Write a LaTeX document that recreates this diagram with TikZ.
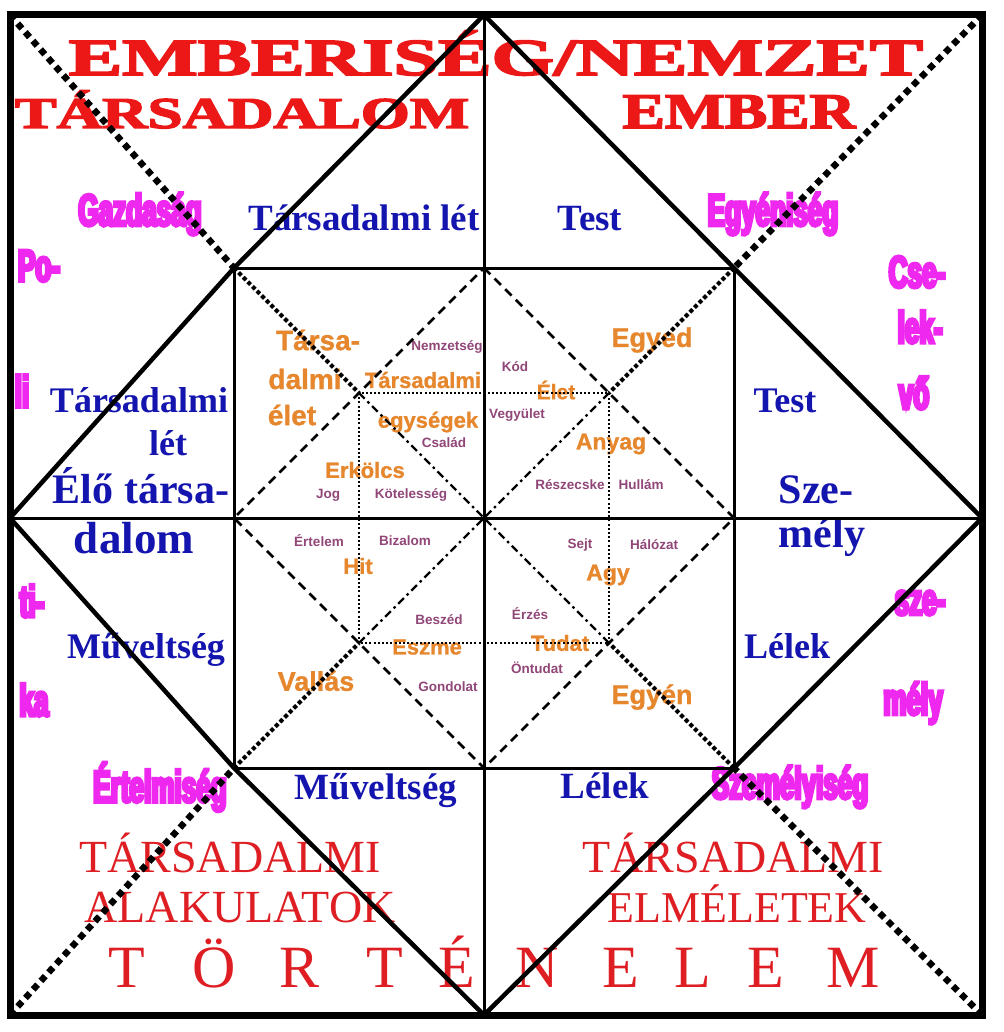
\documentclass[tikz,border=0pt]{standalone}
\usepackage{fontspec}
\usepackage{graphicx}
\setmainfont{Liberation Serif}
\newfontfamily\sansfont{Liberation Sans}
\newfontfamily\orangefont[FakeBold=1]{Liberation Sans Bold}
\newfontfamily\impactfont[FakeStretch=0.58,FakeBold=7]{Liberation Sans Bold}
\newfontfamily\titlefont[FakeBold=3]{Liberation Serif Bold}
\newcommand{\fsz}[1]{\fontsize{#1}{#1}\selectfont}
\definecolor{tred}{RGB}{236,24,24}
\definecolor{bred}{RGB}{222,30,35}
\definecolor{pinkc}{RGB}{238,40,238}
\definecolor{bluec}{RGB}{20,20,175}
\definecolor{orangec}{RGB}{230,135,45}
\definecolor{purplec}{RGB}{145,70,120}
\tikzset{
  lbl/.style={inner sep=0pt, outer sep=0pt},
  titletxt/.style={lbl, text=tred, anchor=base},
  pinktxt/.style={lbl, text=pinkc, font=\impactfont\fsz{45}},
  bluetxt/.style={lbl, text=bluec, anchor=base},
  redtxt/.style={lbl, text=bred, anchor=base},
  histtxt/.style={lbl, text=bred, anchor=base, font=\fsz{60}},
  orangetxt/.style={lbl, text=orangec},
  purpletxt/.style={lbl, text=purplec, font=\sansfont\bfseries\fsz{13.5}},
  frame/.style={line width=7pt},
  bigdiamond/.style={line width=4.5pt, line join=miter},
  cross/.style={line width=3pt},
  innersq/.style={line width=3pt},
  thickdots/.style={line width=6.5pt, dash pattern=on 6.5pt off 5pt},
  smalldots/.style={line width=4pt, dash pattern=on 4pt off 2.5pt},
  dashdot/.style={line width=2.2pt, dash pattern=on 8pt off 4pt on 2.5pt off 4pt},
  dashline/.style={line width=2.8pt, dash pattern=on 9pt off 6pt},
  finedots/.style={line width=2pt, dash pattern=on 2pt off 2.2pt},
}
\begin{document}
\begin{tikzpicture}[x=1pt,y=-1pt]
\fill[white] (0,0) rectangle (1003,1032);
\useasboundingbox (0,0) rectangle (1003,1032);

% coordinates
\coordinate (oTL) at (10,15);
\coordinate (oTR) at (982,15);
\coordinate (oBL) at (10,1015);
\coordinate (oBR) at (982,1015);
\coordinate (mT) at (484,15);
\coordinate (mB) at (484,1015);
\coordinate (mL) at (10,518);
\coordinate (mR) at (982,518);
\coordinate (C) at (484,518);
\coordinate (iTL) at (234,268);
\coordinate (iTR) at (734,268);
\coordinate (iBL) at (234,768);
\coordinate (iBR) at (734,768);
\coordinate (iT) at (484,268);
\coordinate (iB) at (484,768);
\coordinate (iL) at (234,518);
\coordinate (iR) at (734,518);
\coordinate (qTL) at (359,393);
\coordinate (qTR) at (609,393);
\coordinate (qBL) at (359,643);
\coordinate (qBR) at (609,643);

% title texts
\node[titletxt, font=\titlefont\fsz{52}] (t1) at (496,75) {\scalebox{1.54}[1]{EMBERISÉG/NEMZET}};
\node[titletxt, font=\titlefont\fsz{44}] (t2) at (242,128) {\scalebox{1.43}[1]{TÁRSADALOM}};
\node[titletxt, font=\titlefont\fsz{50}] (t3) at (739,128) {\scalebox{1.27}[1]{EMBER}};

% pink texts
\node[pinktxt] (p1) at (140,214) {Gazdaság};
\node[pinktxt] (p2) at (773,214) {Egyéniség};
\node[pinktxt] (p3) at (39,266) {Po-};
\node[pinktxt] (p4) at (22,391) {li};
\node[pinktxt] (p5) at (32,601) {ti-};
\node[pinktxt] (p6) at (34,700) {ka};
\node[pinktxt] (p7) at (917,272) {Cse-};
\node[pinktxt] (p8) at (920,327) {lek-};
\node[pinktxt] (p9) at (914,393) {vő};
\node[pinktxt] (p10) at (920,603) {sze-};
\node[pinktxt] (p11) at (913,703) {mély};
\node[pinktxt] (p12) at (160,787) {Értelmiség};
\node[pinktxt] (p13) at (790,787) {Személyiség};

% blue texts
\node[bluetxt, font=\bfseries\fsz{37}] (b1) at (364,230) {Társadalmi lét};
\node[bluetxt, font=\bfseries\fsz{37}] (b2) at (590,230) {Test};
\node[bluetxt, font=\bfseries\fsz{36}] (b3) at (139,412) {Társadalmi};
\node[bluetxt, font=\bfseries\fsz{36}] (b4) at (168,455) {lét};
\node[bluetxt, font=\bfseries\fsz{42}] (b5) at (141,503) {Élő társa-};
\node[bluetxt, font=\bfseries\fsz{45}] (b6) at (134,553) {dalom};
\node[bluetxt, font=\bfseries\fsz{36}] (b7) at (146,658) {Műveltség};
\node[bluetxt, font=\bfseries\fsz{37}] (b8) at (376,799) {Műveltség};
\node[bluetxt, font=\bfseries\fsz{37}] (b9) at (605,798) {Lélek};
\node[bluetxt, font=\bfseries\fsz{36}] (b10) at (785,412) {Test};
\node[bluetxt, font=\bfseries\fsz{42}] (b11) at (816,503) {Sze-};
\node[bluetxt, font=\bfseries\fsz{42}] (b12) at (822,547) {mély};
\node[bluetxt, font=\bfseries\fsz{36}] (b13) at (787,658) {Lélek};

% red bottom texts
\node[redtxt, font=\fsz{46}] (r1) at (230,872) {TÁRSADALMI};
\node[redtxt, font=\fsz{46}] (r2) at (240,922) {ALAKULATOK};
\node[redtxt, font=\fsz{46}] (r3) at (733,872) {TÁRSADALMI};
\node[redtxt, font=\fsz{44}] (r4) at (737,922) {ELMÉLETEK};
\foreach \l/\x [count=\i] in {T/127,Ö/214,R/300,T/385,É/457,N/537,E/621,L/693,E/766,M/853}
  \node[histtxt] (h\i) at (\x,987) {\l};

% orange texts
\node[orangetxt, font=\orangefont\fsz{28}] (o1) at (318,340) {Társa-};
\node[orangetxt, font=\orangefont\fsz{28}] (o2) at (305,379) {dalmi};
\node[orangetxt, font=\orangefont\fsz{28}] (o3) at (292,415) {élet};
\node[orangetxt, font=\orangefont\fsz{22}] (o4) at (423,380) {Társadalmi};
\node[orangetxt, font=\orangefont\fsz{22}] (o5) at (428,422) {egységek};
\node[orangetxt, font=\orangefont\fsz{22}] (o6) at (365,470) {Erkölcs};
\node[orangetxt, font=\orangefont\fsz{27}] (o7) at (652,340) {Egyed};
\node[orangetxt, font=\orangefont\fsz{21}] (o8) at (556,390) {Élet};
\node[orangetxt, font=\orangefont\fsz{23}] (o9) at (611,444) {Anyag};
\node[orangetxt, font=\orangefont\fsz{22}] (o10) at (358,566) {Hit};
\node[orangetxt, font=\orangefont\fsz{22}] (o11) at (427,647) {Eszme};
\node[orangetxt, font=\orangefont\fsz{27}] (o12) at (316,681) {Vallás};
\node[orangetxt, font=\orangefont\fsz{23}] (o13) at (608,575) {Agy};
\node[orangetxt, font=\orangefont\fsz{22}] (o14) at (560,643) {Tudat};
\node[orangetxt, font=\orangefont\fsz{27}] (o15) at (652,697) {Egyén};

% purple texts
\node[purpletxt] (u1) at (447,347) {Nemzetség};
\node[purpletxt] (u2) at (444,443) {Család};
\node[purpletxt] (u3) at (328,495) {Jog};
\node[purpletxt] (u4) at (411,495) {Kötelesség};
\node[purpletxt] (u5) at (515,367) {Kód};
\node[purpletxt] (u6) at (517,415) {Vegyület};
\node[purpletxt] (u7) at (570,485) {Részecske};
\node[purpletxt] (u8) at (641,485) {Hullám};
\node[purpletxt] (u9) at (319,541) {Értelem};
\node[purpletxt] (u10) at (405,541) {Bizalom};
\node[purpletxt] (u11) at (439,620) {Beszéd};
\node[purpletxt] (u12) at (448,687) {Gondolat};
\node[purpletxt] (u13) at (580,545) {Sejt};
\node[purpletxt] (u14) at (654,545) {Hálózat};
\node[purpletxt] (u15) at (530,614) {Érzés};
\node[purpletxt] (u16) at (537,668) {Öntudat};

% lines
\draw[finedots] (qTL) rectangle (qBR);
\draw[dashline] (iT) -- (iR) -- (iB) -- (iL) -- cycle;
\draw[dashdot] (qTL) -- (C);
\draw[dashdot] (qBR) -- (C);
\draw[dashdot] (qTR) -- (C);
\draw[dashdot] (qBL) -- (C);
\draw[smalldots] (iTL) -- (qTL);
\draw[smalldots] (iTR) -- (qTR);
\draw[smalldots] (iBL) -- (qBL);
\draw[smalldots] (iBR) -- (qBR);
\draw[thickdots] (oTL) -- (iTL);
\draw[thickdots] (oTR) -- (iTR);
\draw[thickdots] (oBL) -- (iBL);
\draw[thickdots] (oBR) -- (iBR);
\draw[innersq] (iTL) rectangle (iBR);
\draw[cross] (mT) -- (mB);
\draw[cross] (mL) -- (mR);
\draw[bigdiamond] (mT) -- (iTL) -- (mL) -- (iBL) -- (mB) -- (iBR) -- (mR) -- (iTR) -- cycle;
\draw[frame] (oTL) rectangle (oBR);
\end{tikzpicture}
\end{document}
